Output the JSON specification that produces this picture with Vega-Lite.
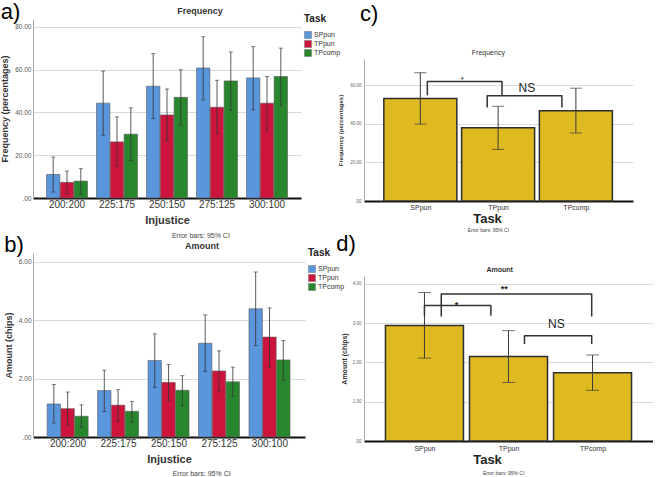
{
  "$schema": "https://vega.github.io/schema/vega-lite/v6.json",
  "background": "white",
  "padding": {"left": 0, "top": 1, "right": 0, "bottom": 0},
  "config": {
    "font": "Liberation Sans",
    "view": {"stroke": null},
    "axis": {"labelFont": "Liberation Sans", "titleFont": "Liberation Sans"},
    "title": {"font": "Liberation Sans"},
    "legend": {"labelFont": "Liberation Sans", "titleFont": "Liberation Sans"}
  },
  "datasets": {
    "freq": [
      {"Injustice": "200:200", "Task": "SPpun", "mean": 11.0, "lo": 2.8, "hi": 19.1},
      {"Injustice": "200:200", "Task": "TPpun", "mean": 7.3, "lo": 2.0, "hi": 12.6},
      {"Injustice": "200:200", "Task": "TPcomp", "mean": 7.9, "lo": 1.7, "hi": 13.7},
      {"Injustice": "225:175", "Task": "SPpun", "mean": 44.3, "lo": 29.3, "hi": 59.3},
      {"Injustice": "225:175", "Task": "TPpun", "mean": 26.2, "lo": 14.9, "hi": 37.9},
      {"Injustice": "225:175", "Task": "TPcomp", "mean": 29.8, "lo": 17.5, "hi": 42.1},
      {"Injustice": "250:150", "Task": "SPpun", "mean": 52.2, "lo": 37.1, "hi": 67.4},
      {"Injustice": "250:150", "Task": "TPpun", "mean": 38.8, "lo": 26.7, "hi": 50.9},
      {"Injustice": "250:150", "Task": "TPcomp", "mean": 47.0, "lo": 34.0, "hi": 59.9},
      {"Injustice": "275:125", "Task": "SPpun", "mean": 60.7, "lo": 45.8, "hi": 75.3},
      {"Injustice": "275:125", "Task": "TPpun", "mean": 42.4, "lo": 30.0, "hi": 55.0},
      {"Injustice": "275:125", "Task": "TPcomp", "mean": 54.7, "lo": 41.0, "hi": 68.2},
      {"Injustice": "300:100", "Task": "SPpun", "mean": 56.1, "lo": 41.1, "hi": 70.7},
      {"Injustice": "300:100", "Task": "TPpun", "mean": 44.3, "lo": 31.7, "hi": 56.7},
      {"Injustice": "300:100", "Task": "TPcomp", "mean": 56.7, "lo": 43.2, "hi": 70.0}
    ],
    "amount": [
      {"Injustice": "200:200", "Task": "SPpun", "mean": 1.13, "lo": 0.48, "hi": 1.80},
      {"Injustice": "200:200", "Task": "TPpun", "mean": 0.97, "lo": 0.39, "hi": 1.54},
      {"Injustice": "200:200", "Task": "TPcomp", "mean": 0.71, "lo": 0.32, "hi": 1.10},
      {"Injustice": "225:175", "Task": "SPpun", "mean": 1.59, "lo": 0.87, "hi": 2.29},
      {"Injustice": "225:175", "Task": "TPpun", "mean": 1.09, "lo": 0.54, "hi": 1.62},
      {"Injustice": "225:175", "Task": "TPcomp", "mean": 0.88, "lo": 0.51, "hi": 1.22},
      {"Injustice": "250:150", "Task": "SPpun", "mean": 2.62, "lo": 1.70, "hi": 3.53},
      {"Injustice": "250:150", "Task": "TPpun", "mean": 1.87, "lo": 1.25, "hi": 2.48},
      {"Injustice": "250:150", "Task": "TPcomp", "mean": 1.60, "lo": 1.07, "hi": 2.10},
      {"Injustice": "275:125", "Task": "SPpun", "mean": 3.21, "lo": 2.24, "hi": 4.18},
      {"Injustice": "275:125", "Task": "TPpun", "mean": 2.26, "lo": 1.55, "hi": 2.95},
      {"Injustice": "275:125", "Task": "TPcomp", "mean": 1.89, "lo": 1.39, "hi": 2.39},
      {"Injustice": "300:100", "Task": "SPpun", "mean": 4.39, "lo": 3.13, "hi": 5.65},
      {"Injustice": "300:100", "Task": "TPpun", "mean": 3.42, "lo": 2.39, "hi": 4.42},
      {"Injustice": "300:100", "Task": "TPcomp", "mean": 2.64, "lo": 1.94, "hi": 3.30}
    ],
    "freqTask": [
      {"Task": "SPpun", "pos": 1, "mean": 53.1, "lo": 39.8, "hi": 66.4},
      {"Task": "TPpun", "pos": 2, "mean": 37.9, "lo": 26.7, "hi": 49.0},
      {"Task": "TPcomp", "pos": 3, "mean": 46.7, "lo": 35.2, "hi": 58.4}
    ],
    "amountTask": [
      {"Task": "SPpun", "pos": 1, "mean": 2.94, "lo": 2.11, "hi": 3.78},
      {"Task": "TPpun", "pos": 2, "mean": 2.15, "lo": 1.49, "hi": 2.81},
      {"Task": "TPcomp", "pos": 3, "mean": 1.74, "lo": 1.29, "hi": 2.19}
    ],
    "freqBrackets": [
      {"id": "SP-TP", "ord": 1, "x": 1.09, "y": 54.8},
      {"id": "SP-TP", "ord": 2, "x": 1.09, "y": 61.9},
      {"id": "SP-TP", "ord": 3, "x": 2.05, "y": 61.9},
      {"id": "SP-TP", "ord": 4, "x": 2.05, "y": 54.8},
      {"id": "TP-TC", "ord": 1, "x": 1.86, "y": 48.4},
      {"id": "TP-TC", "ord": 2, "x": 1.86, "y": 54.5},
      {"id": "TP-TC", "ord": 3, "x": 2.82, "y": 54.5},
      {"id": "TP-TC", "ord": 4, "x": 2.82, "y": 48.4}
    ],
    "freqLabels": [
      {"label": "*", "x": 1.54, "y": 64.8},
      {"label": "NS", "x": 2.37, "y": 58.4}
    ],
    "amountBrackets": [
      {"id": "SP-TP", "ord": 1, "x": 1.0, "y": 3.19},
      {"id": "SP-TP", "ord": 2, "x": 1.0, "y": 3.45},
      {"id": "SP-TP", "ord": 3, "x": 1.79, "y": 3.45},
      {"id": "SP-TP", "ord": 4, "x": 1.79, "y": 3.19},
      {"id": "SP-TC", "ord": 1, "x": 1.2, "y": 3.17},
      {"id": "SP-TC", "ord": 2, "x": 1.2, "y": 3.74},
      {"id": "SP-TC", "ord": 3, "x": 2.99, "y": 3.74},
      {"id": "SP-TC", "ord": 4, "x": 2.99, "y": 3.17},
      {"id": "TP-TC", "ord": 1, "x": 2.19, "y": 2.47},
      {"id": "TP-TC", "ord": 2, "x": 2.19, "y": 2.68},
      {"id": "TP-TC", "ord": 3, "x": 2.99, "y": 2.68},
      {"id": "TP-TC", "ord": 4, "x": 2.99, "y": 2.47}
    ],
    "amountLabels": [
      {"label": "*", "x": 1.38, "y": 3.57},
      {"label": "**", "x": 1.95, "y": 3.97},
      {"label": "NS", "x": 2.57, "y": 2.98}
    ]
  },
  "spacing": -9,
  "resolve": {"scale": {"color": "independent"}},
  "hconcat": [
    {
      "spacing": -5,
      "resolve": {"scale": {"color": "independent"}},
      "vconcat": [
        {
          "title": {"text": "a)", "anchor": "start", "frame": "bounds", "fontSize": 22, "fontWeight": "normal", "color": "#000", "offset": -17},
          "resolve": {"scale": {"color": "independent"}},
          "vconcat": [
            {
              "title": {"text": "Error bars: 95% CI", "orient": "bottom", "anchor": "middle", "frame": "bounds", "fontSize": 7, "fontWeight": "normal", "color": "#444", "offset": 7, "dx": 30},
              "resolve": {"scale": {"color": "independent"}},
              "vconcat": [
                {
                  "width": 268,
                  "height": 179,
                  "title": {"text": "Frequency", "fontSize": 9, "fontWeight": "bold", "color": "#333", "dx": 33, "offset": 3},
                  "data": {"name": "freq"},
                  "encoding": {
                    "x": {"field": "Injustice", "type": "nominal", "title": "Injustice", "sort": ["200:200", "225:175", "250:150", "275:125", "300:100"], "scale": {"paddingInner": 0.18, "paddingOuter": 0.27},
                      "axis": {"labelAngle": 0, "labelFontSize": 10, "labelColor": "#333", "ticks": false, "domainColor": "#111", "domainWidth": 2, "labelPadding": 1, "titleFontSize": 11, "titleFontWeight": "bold", "titleColor": "#333", "titlePadding": 5}},
                    "xOffset": {"field": "Task", "type": "nominal", "sort": ["SPpun", "TPpun", "TPcomp"], "scale": {"paddingInner": 0.03}}
                  },
                  "layer": [
                    {
                      "mark": {"type": "bar", "stroke": "#5a5a5a", "strokeWidth": 0.6},
                      "encoding": {
                        "y": {"field": "mean", "type": "quantitative", "title": "Frequency (percentages)", "scale": {"domain": [0, 83.6], "nice": false},
                          "axis": {"values": [0, 20, 40, 60, 80], "labelExpr": "datum.value == 0 ? '.00' : format(datum.value, '.2f')", "grid": true, "gridColor": "#d9d9d9", "ticks": false, "domainColor": "#aaa", "labelFontSize": 6.5, "labelColor": "#555", "labelPadding": 2, "titleFontSize": 9, "titleFontWeight": "bold", "titleColor": "#333", "titlePadding": 5}},
                        "color": {"field": "Task", "type": "nominal", "sort": ["SPpun", "TPpun", "TPcomp"], "scale": {"domain": ["SPpun", "TPpun", "TPcomp"], "range": ["#5a96dc", "#cd143c", "#28872d"]},
                          "legend": {"title": "Task", "orient": "right", "offset": 3, "titleFontSize": 10, "titleFontWeight": "bold", "titleColor": "#222", "titleBaseline": "middle", "titlePadding": 2, "labelFontSize": 7, "labelColor": "#333", "symbolType": "square", "symbolSize": 50, "symbolStrokeColor": "#777", "symbolStrokeWidth": 0.5, "rowPadding": -2, "labelOffset": 2, "padding": 0}}
                      }
                    },
                    {
                      "mark": {"type": "rule", "color": "#333", "strokeWidth": 0.8},
                      "encoding": {
                        "y": {"field": "lo", "type": "quantitative", "title": "Frequency (percentages)", "scale": {"domain": [0, 83.6], "nice": false}},
                        "y2": {"field": "hi"}
                      }
                    },
                    {
                      "mark": {"type": "tick", "orient": "horizontal", "color": "#333", "size": 4, "thickness": 0.9},
                      "encoding": {"y": {"field": "lo", "type": "quantitative", "title": "Frequency (percentages)", "scale": {"domain": [0, 83.6], "nice": false}}}
                    },
                    {
                      "mark": {"type": "tick", "orient": "horizontal", "color": "#333", "size": 4, "thickness": 0.9},
                      "encoding": {"y": {"field": "hi", "type": "quantitative", "title": "Frequency (percentages)", "scale": {"domain": [0, 83.6], "nice": false}}}
                    }
                  ]
                }
              ]
            }
          ]
        },
        {
          "title": {"text": "b)", "anchor": "start", "frame": "bounds", "fontSize": 22, "fontWeight": "normal", "color": "#000", "offset": -15},
          "resolve": {"scale": {"color": "independent"}},
          "vconcat": [
            {
              "title": {"text": "Error bars: 95% CI", "orient": "bottom", "anchor": "middle", "frame": "bounds", "fontSize": 7, "fontWeight": "normal", "color": "#444", "offset": 6, "dx": 27},
              "resolve": {"scale": {"color": "independent"}},
              "vconcat": [
                {
                  "width": 272,
                  "height": 184,
                  "title": {"text": "Amount", "fontSize": 9, "fontWeight": "bold", "color": "#333", "dx": 33, "offset": 2},
                  "data": {"name": "amount"},
                  "encoding": {
                    "x": {"field": "Injustice", "type": "nominal", "title": "Injustice", "sort": ["200:200", "225:175", "250:150", "275:125", "300:100"], "scale": {"paddingInner": 0.17, "paddingOuter": 0.28},
                      "axis": {"labelAngle": 0, "labelFontSize": 10, "labelColor": "#333", "ticks": false, "domainColor": "#111", "domainWidth": 2, "labelPadding": 1, "titleFontSize": 11, "titleFontWeight": "bold", "titleColor": "#333", "titlePadding": 5}},
                    "xOffset": {"field": "Task", "type": "nominal", "sort": ["SPpun", "TPpun", "TPcomp"], "scale": {"paddingInner": 0.03}}
                  },
                  "layer": [
                    {
                      "mark": {"type": "bar", "stroke": "#5a5a5a", "strokeWidth": 0.6},
                      "encoding": {
                        "y": {"field": "mean", "type": "quantitative", "title": "Amount (chips)", "scale": {"domain": [0, 6.3], "nice": false},
                          "axis": {"values": [0, 1, 2, 3, 4, 5, 6], "labelExpr": "datum.value == 0 ? '.00' : format(datum.value, '.2f')", "grid": true, "gridColor": "#d9d9d9", "ticks": false, "domainColor": "#aaa", "labelFontSize": 6.5, "labelColor": "#555", "labelPadding": 2, "titleFontSize": 9, "titleFontWeight": "bold", "titleColor": "#333", "titlePadding": 5}},
                        "color": {"field": "Task", "type": "nominal", "sort": ["SPpun", "TPpun", "TPcomp"], "scale": {"domain": ["SPpun", "TPpun", "TPcomp"], "range": ["#5a96dc", "#cd143c", "#28872d"]},
                          "legend": {"title": "Task", "orient": "right", "offset": 3, "titleFontSize": 10, "titleFontWeight": "bold", "titleColor": "#222", "titleBaseline": "middle", "titlePadding": 2, "labelFontSize": 7, "labelColor": "#333", "symbolType": "square", "symbolSize": 50, "symbolStrokeColor": "#777", "symbolStrokeWidth": 0.5, "rowPadding": -2, "labelOffset": 2, "padding": 0}}
                      }
                    },
                    {
                      "mark": {"type": "rule", "color": "#333", "strokeWidth": 0.8},
                      "encoding": {
                        "y": {"field": "lo", "type": "quantitative", "title": "Amount (chips)", "scale": {"domain": [0, 6.3], "nice": false}},
                        "y2": {"field": "hi"}
                      }
                    },
                    {
                      "mark": {"type": "tick", "orient": "horizontal", "color": "#333", "size": 4, "thickness": 0.9},
                      "encoding": {"y": {"field": "lo", "type": "quantitative", "title": "Amount (chips)", "scale": {"domain": [0, 6.3], "nice": false}}}
                    },
                    {
                      "mark": {"type": "tick", "orient": "horizontal", "color": "#333", "size": 4, "thickness": 0.9},
                      "encoding": {"y": {"field": "hi", "type": "quantitative", "title": "Amount (chips)", "scale": {"domain": [0, 6.3], "nice": false}}}
                    }
                  ]
                }
              ]
            }
          ]
        }
      ]
    },
    {
      "spacing": -1,
      "vconcat": [
        {
          "width": 10,
          "height": 31,
          "title": {"text": "c)", "anchor": "start", "fontSize": 22, "fontWeight": "normal", "color": "#000", "offset": -7, "dx": -4},
          "data": {"values": [{}]},
          "mark": {"type": "text"},
          "encoding": {"text": {"value": ""}}
        },
        {
          "title": {"text": "Error bars: 95% CI", "orient": "bottom", "anchor": "middle", "frame": "bounds", "fontSize": 5, "fontWeight": "normal", "color": "#444", "offset": 3, "dx": 3},
          "vconcat": [
            {
              "width": 269,
              "height": 142,
              "title": {"text": "Frequency", "frame": "bounds", "fontSize": 7, "fontWeight": "normal", "color": "#333", "dx": 3, "offset": 3},
              "layer": [
                {
                  "data": {"name": "freqTask"},
                  "mark": {"type": "bar", "orient": "vertical", "width": 73, "fill": "#dfb920", "stroke": "#2e2e2e", "strokeWidth": 1.5},
                  "encoding": {
                    "x": {"field": "pos", "type": "quantitative", "title": "Task", "scale": {"domain": [0.34, 3.67], "nice": false, "zero": false},
                      "axis": {"values": [1, 2, 3], "labelExpr": "datum.value == 1 ? 'SPpun' : datum.value == 2 ? 'TPpun' : 'TPcomp'", "grid": false, "ticks": false, "labelFlush": false, "domainColor": "#111", "domainWidth": 2, "labelFontSize": 7, "labelColor": "#333", "labelPadding": 2, "titleFontSize": 13, "titleFontWeight": "bold", "titleColor": "#222", "titlePadding": 2, "titleX": 123}},
                    "y": {"field": "mean", "type": "quantitative", "title": "Frequency (percentages)", "scale": {"domain": [0, 73.5], "nice": false},
                      "axis": {"values": [0, 20, 40, 60], "labelExpr": "datum.value == 0 ? '.00' : format(datum.value, '.2f')", "grid": true, "gridColor": "#dcdcdc", "ticks": false, "domainColor": "#aaa", "labelFontSize": 4.5, "labelColor": "#666", "labelPadding": 3, "titleFontSize": 6, "titleFontWeight": "bold", "titleColor": "#333", "titlePadding": 6}}
                  }
                },
                {
                  "data": {"name": "freqTask"},
                  "mark": {"type": "rule", "color": "#3a3a3a", "strokeWidth": 1},
                  "encoding": {
                    "x": {"field": "pos", "type": "quantitative", "title": "Task", "scale": {"domain": [0.34, 3.67], "nice": false, "zero": false}},
                    "y": {"field": "lo", "type": "quantitative", "title": "Frequency (percentages)", "scale": {"domain": [0, 73.5], "nice": false}},
                    "y2": {"field": "hi"}
                  }
                },
                {
                  "data": {"name": "freqTask"},
                  "mark": {"type": "tick", "orient": "horizontal", "color": "#3a3a3a", "size": 12, "thickness": 1},
                  "encoding": {
                    "x": {"field": "pos", "type": "quantitative", "title": "Task", "scale": {"domain": [0.34, 3.67], "nice": false, "zero": false}},
                    "y": {"field": "lo", "type": "quantitative", "title": "Frequency (percentages)", "scale": {"domain": [0, 73.5], "nice": false}}
                  }
                },
                {
                  "data": {"name": "freqTask"},
                  "mark": {"type": "tick", "orient": "horizontal", "color": "#3a3a3a", "size": 12, "thickness": 1},
                  "encoding": {
                    "x": {"field": "pos", "type": "quantitative", "title": "Task", "scale": {"domain": [0.34, 3.67], "nice": false, "zero": false}},
                    "y": {"field": "hi", "type": "quantitative", "title": "Frequency (percentages)", "scale": {"domain": [0, 73.5], "nice": false}}
                  }
                },
                {
                  "data": {"name": "freqBrackets"},
                  "mark": {"type": "line", "color": "#333", "strokeWidth": 1.5, "strokeJoin": "round"},
                  "encoding": {
                    "x": {"field": "x", "type": "quantitative", "title": "Task", "scale": {"domain": [0.34, 3.67], "nice": false, "zero": false}},
                    "y": {"field": "y", "type": "quantitative", "title": "Frequency (percentages)", "scale": {"domain": [0, 73.5], "nice": false}},
                    "detail": {"field": "id", "type": "nominal"},
                    "order": {"field": "ord", "type": "quantitative"}
                  }
                },
                {
                  "data": {"name": "freqLabels"},
                  "transform": [{"filter": "datum.label == 'NS'"}],
                  "mark": {"type": "text", "fontSize": 12, "color": "#222"},
                  "encoding": {
                    "x": {"field": "x", "type": "quantitative", "title": "Task", "scale": {"domain": [0.34, 3.67], "nice": false, "zero": false}},
                    "y": {"field": "y", "type": "quantitative", "title": "Frequency (percentages)", "scale": {"domain": [0, 73.5], "nice": false}},
                    "text": {"field": "label"}
                  }
                },
                {
                  "data": {"name": "freqLabels"},
                  "transform": [{"filter": "datum.label != 'NS'"}],
                  "mark": {"type": "text", "fontSize": 8, "color": "#222", "baseline": "top"},
                  "encoding": {
                    "x": {"field": "x", "type": "quantitative", "title": "Task", "scale": {"domain": [0.34, 3.67], "nice": false, "zero": false}},
                    "y": {"field": "y", "type": "quantitative", "title": "Frequency (percentages)", "scale": {"domain": [0, 73.5], "nice": false}},
                    "text": {"field": "label"}
                  }
                }
              ]
            }
          ]
        },
        {
          "title": {"text": "d)", "anchor": "start", "fontSize": 22, "fontWeight": "normal", "color": "#000", "offset": 10.5, "dx": -4},
          "vconcat": [
            {
              "title": {"text": "Error bars: 95% CI", "orient": "bottom", "anchor": "middle", "frame": "bounds", "fontSize": 5, "fontWeight": "normal", "color": "#444", "offset": 5, "dx": 7},
              "vconcat": [
                {
                  "width": 289,
                  "height": 165,
                  "title": {"text": "Amount", "frame": "bounds", "fontSize": 7, "fontWeight": "bold", "color": "#333", "dx": 3, "offset": 3},
                  "layer": [
                    {
                      "data": {"name": "amountTask"},
                      "mark": {"type": "bar", "orient": "vertical", "width": 78, "fill": "#dfb920", "stroke": "#2e2e2e", "strokeWidth": 1.5},
                      "encoding": {
                        "x": {"field": "pos", "type": "quantitative", "title": "Task", "scale": {"domain": [0.34, 3.66], "nice": false, "zero": false},
                          "axis": {"values": [1, 2, 3], "labelExpr": "datum.value == 1 ? 'SPpun' : datum.value == 2 ? 'TPpun' : 'TPcomp'", "grid": false, "ticks": false, "labelFlush": false, "domainColor": "#111", "domainWidth": 2, "labelFontSize": 7, "labelColor": "#333", "labelPadding": 3, "titleFontSize": 13, "titleFontWeight": "bold", "titleColor": "#222", "titlePadding": 2, "titleX": 123}},
                        "y": {"field": "mean", "type": "quantitative", "title": "Amount (chips)", "scale": {"domain": [0, 4.2], "nice": false},
                          "axis": {"values": [0, 1, 2, 3, 4], "labelExpr": "datum.value == 0 ? '.00' : format(datum.value, '.2f')", "grid": true, "gridColor": "#dcdcdc", "ticks": false, "domainColor": "#aaa", "labelFontSize": 4.5, "labelColor": "#666", "labelPadding": 3, "titleFontSize": 7, "titleFontWeight": "bold", "titleColor": "#333", "titlePadding": 5}}
                      }
                    },
                    {
                      "data": {"name": "amountTask"},
                      "mark": {"type": "rule", "color": "#3a3a3a", "strokeWidth": 1},
                      "encoding": {
                        "x": {"field": "pos", "type": "quantitative", "title": "Task", "scale": {"domain": [0.34, 3.66], "nice": false, "zero": false}},
                        "y": {"field": "lo", "type": "quantitative", "title": "Amount (chips)", "scale": {"domain": [0, 4.2], "nice": false}},
                        "y2": {"field": "hi"}
                      }
                    },
                    {
                      "data": {"name": "amountTask"},
                      "mark": {"type": "tick", "orient": "horizontal", "color": "#3a3a3a", "size": 13, "thickness": 1},
                      "encoding": {
                        "x": {"field": "pos", "type": "quantitative", "title": "Task", "scale": {"domain": [0.34, 3.66], "nice": false, "zero": false}},
                        "y": {"field": "lo", "type": "quantitative", "title": "Amount (chips)", "scale": {"domain": [0, 4.2], "nice": false}}
                      }
                    },
                    {
                      "data": {"name": "amountTask"},
                      "mark": {"type": "tick", "orient": "horizontal", "color": "#3a3a3a", "size": 13, "thickness": 1},
                      "encoding": {
                        "x": {"field": "pos", "type": "quantitative", "title": "Task", "scale": {"domain": [0.34, 3.66], "nice": false, "zero": false}},
                        "y": {"field": "hi", "type": "quantitative", "title": "Amount (chips)", "scale": {"domain": [0, 4.2], "nice": false}}
                      }
                    },
                    {
                      "data": {"name": "amountBrackets"},
                      "mark": {"type": "line", "color": "#333", "strokeWidth": 1.5, "strokeJoin": "round"},
                      "encoding": {
                        "x": {"field": "x", "type": "quantitative", "title": "Task", "scale": {"domain": [0.34, 3.66], "nice": false, "zero": false}},
                        "y": {"field": "y", "type": "quantitative", "title": "Amount (chips)", "scale": {"domain": [0, 4.2], "nice": false}},
                        "detail": {"field": "id", "type": "nominal"},
                        "order": {"field": "ord", "type": "quantitative"}
                      }
                    },
                    {
                      "data": {"name": "amountLabels"},
                      "transform": [{"filter": "datum.label == 'NS'"}],
                      "mark": {"type": "text", "fontSize": 12, "color": "#222"},
                      "encoding": {
                        "x": {"field": "x", "type": "quantitative", "title": "Task", "scale": {"domain": [0.34, 3.66], "nice": false, "zero": false}},
                        "y": {"field": "y", "type": "quantitative", "title": "Amount (chips)", "scale": {"domain": [0, 4.2], "nice": false}},
                        "text": {"field": "label"}
                      }
                    },
                    {
                      "data": {"name": "amountLabels"},
                      "transform": [{"filter": "datum.label != 'NS'"}],
                      "mark": {"type": "text", "fontSize": 9, "fontWeight": "bold", "color": "#222", "baseline": "top"},
                      "encoding": {
                        "x": {"field": "x", "type": "quantitative", "title": "Task", "scale": {"domain": [0.34, 3.66], "nice": false, "zero": false}},
                        "y": {"field": "y", "type": "quantitative", "title": "Amount (chips)", "scale": {"domain": [0, 4.2], "nice": false}},
                        "text": {"field": "label"}
                      }
                    }
                  ]
                }
              ]
            }
          ]
        }
      ]
    }
  ]
}
